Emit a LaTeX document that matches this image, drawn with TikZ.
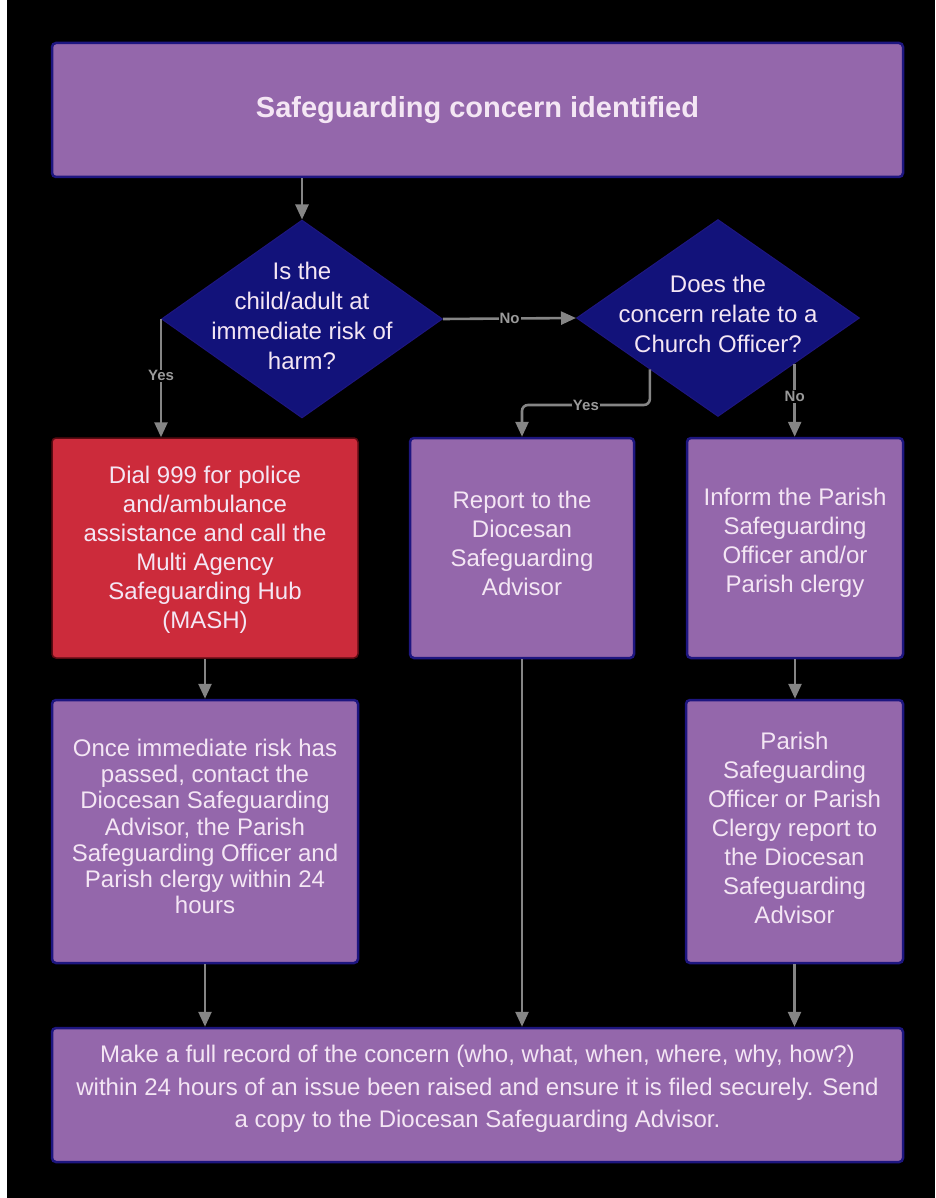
\documentclass[tikz,border=0pt]{standalone}
\usepackage{fontspec}
\setmainfont{Liberation Sans}
\usetikzlibrary{shapes.geometric,arrows.meta,calc}
\definecolor{boxfill}{HTML}{9467AB}
\definecolor{boxline}{HTML}{1E1680}
\definecolor{redfill}{HTML}{CC2B3B}
\definecolor{redline}{HTML}{5A0A12}
\definecolor{dfill}{HTML}{12127A}
\definecolor{txt}{HTML}{F4E6F4}
\definecolor{conn}{HTML}{858585}
\definecolor{labc}{HTML}{9A9A9A}
\tikzset{
  pbox/.style={rectangle, rounded corners=4pt, fill=boxfill, draw=boxline, line width=2.5pt, inner sep=0pt},
  rbox/.style={pbox, fill=redfill, draw=redline, line width=1.5pt},
  btext/.style={text=txt, align=center, font=\fontsize{24}{29}\selectfont, inner sep=0pt},
  dshape/.style={diamond, fill=dfill, draw=boxline, line width=1pt, inner sep=0pt, aspect=1.42},
  dtext/.style={text=txt, align=center, font=\fontsize{24}{30}\selectfont, inner sep=0pt},
  arr/.style={draw=conn, line width=2.6pt, -{Triangle[length=15pt,width=13pt]}},
  lab/.style={fill=black, text=labc, font=\fontsize{15}{17}\selectfont\bfseries, inner sep=1pt}
}
\begin{document}
\begin{tikzpicture}[x=1pt,y=-1pt]
\useasboundingbox (0,0) rectangle (935,1198);
\fill[white] (0,0) rectangle (935,1198);
\fill[black] (7,0) rectangle (935,1198);

% boxes
\node[pbox, minimum width=851pt, minimum height=134pt] (top) at (477.5,110) {};
\node[btext, font=\fontsize{29}{34}\selectfont\bfseries] (topt) at (top) {Safeguarding concern identified};

\node[dshape, minimum width=281pt, minimum height=198pt] (d1) at (302,319) {};
\node[dtext] (d1t) at (302,316) {Is the\\child/adult at\\immediate risk of\\harm?};

\node[dshape, minimum width=283pt, minimum height=197pt] (d2) at (718,318) {};
\node[dtext] (d2t) at (718,314) {Does the\\concern relate to a\\Church Officer?};

\node[rbox, minimum width=306pt, minimum height=220pt] (red) at (205,548) {};
\node[btext] (redt) at ($(red)+(0,2)$)
  {Dial 999 for police\\and/ambulance\\assistance and call the\\Multi Agency\\Safeguarding Hub\\(MASH)};

\node[pbox, minimum width=224pt, minimum height=220pt] (mid) at (522,548) {};
\node[btext] (midt) at ($(mid)+(0,-5)$)
  {Report to the\\Diocesan\\Safeguarding\\Advisor};

\node[pbox, minimum width=216pt, minimum height=220pt] (rt2) at (795,548) {};
\node[btext] (rt2t) at ($(rt2)+(0,-5)$)
  {Inform the Parish\\Safeguarding\\Officer and/or\\Parish clergy};

\node[pbox, minimum width=306pt, minimum height=263pt] (lf3) at (205,831.5) {};
\node[btext, font=\fontsize{24}{26.2}\selectfont] (lf3t) at ($(lf3)+(0,-5)$)
  {Once immediate risk has\\passed, contact the\\Diocesan Safeguarding\\Advisor, the Parish\\Safeguarding Officer and\\Parish clergy within 24\\hours};

\node[pbox, minimum width=217pt, minimum height=263pt] (rt3) at (794.5,831.5) {};
\node[btext] (rt3t) at ($(rt3)+(0,-4)$)
  {Parish\\Safeguarding\\Officer or Parish\\Clergy report to\\the Diocesan\\Safeguarding\\Advisor};

\node[pbox, minimum width=851pt, minimum height=134pt] (bot) at (477.5,1095) {};
\node[btext, font=\fontsize{24}{32.5}\selectfont] (bott) at ($(bot)+(0,-6)$)
  {Make a full record of the concern (who, what, when, where, why, how?)\\within 24 hours of an issue been raised and ensure it is filed securely. Send\\a copy to the Diocesan Safeguarding Advisor.};

% connectors
\draw[arr] (top.south -| d1.north) -- (d1.north);
\draw[arr] (d1.east) -- node[lab] (lno1) {No} (d2.west);
\draw[arr] (d1.west) -- node[lab, pos=0.48] (lyes1) {Yes} (d1.west |- red.north);

\coordinate (d2y) at ($(d2.west)!0.52!(d2.south)$);
\coordinate (d2n) at ($(d2.south)!0.54!(d2.east)$);
\draw[arr, rounded corners=6pt] (d2y) -- (d2y |- 0,405) -- node[lab, pos=0.5] (lyes2) {Yes} (mid.north |- 0,405) -- (mid.north);
\draw[arr] (d2n) -- node[lab, pos=0.45] (lno2) {No} (d2n |- rt2.north);

\draw[arr] (red.south) -- (lf3.north -| red.south);
\draw[arr] (rt2.south) -- (rt3.north -| rt2.south);
\draw[arr] (lf3.south) -- (bot.north -| lf3.south);
\draw[arr] (mid.south) -- (bot.north -| mid.south);
\draw[arr] (rt3.south) -- (bot.north -| rt3.south);
\end{tikzpicture}
\end{document}
